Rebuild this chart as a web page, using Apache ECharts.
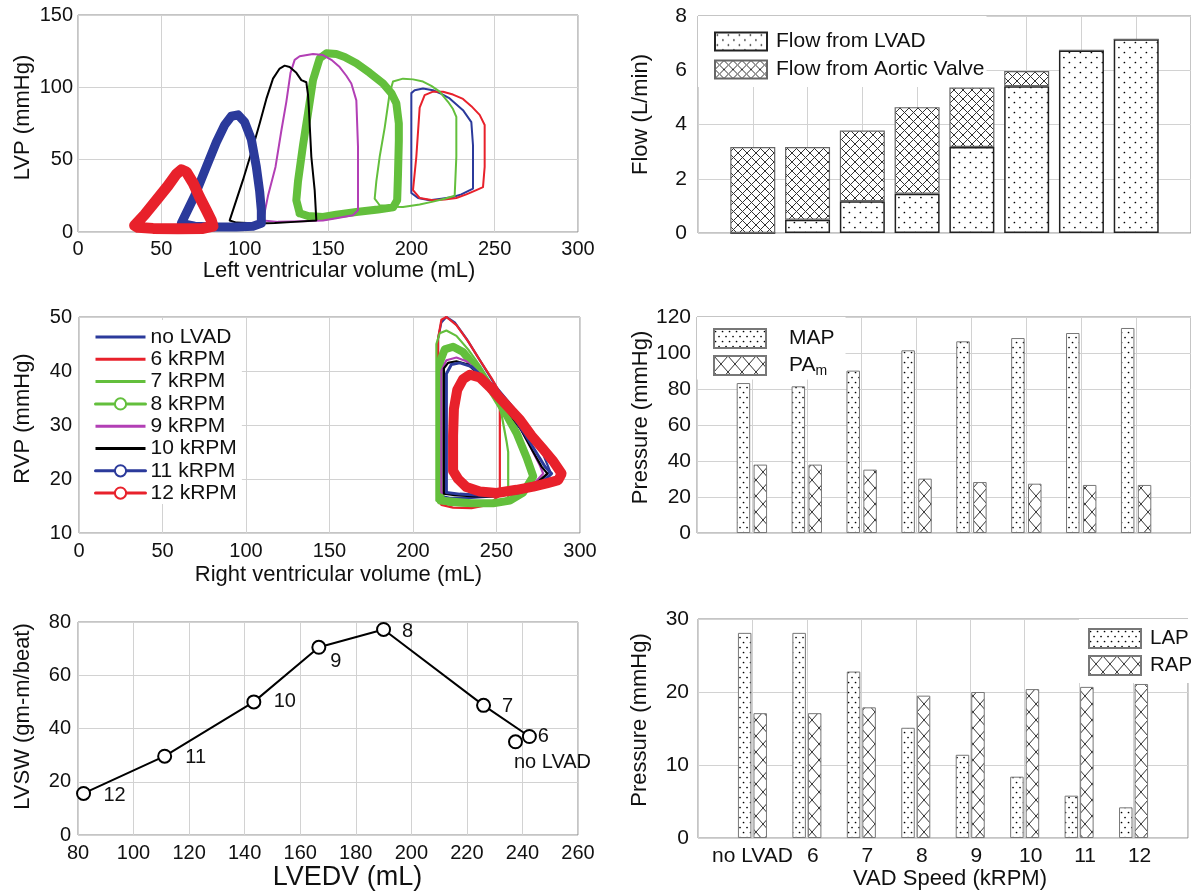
<!DOCTYPE html>
<html><head><meta charset="utf-8">
<script src="https://cdn.jsdelivr.net/npm/echarts@6/dist/echarts.min.js"></script>
<style>html,body{margin:0;padding:0;background:#fff}#c{width:1191px;height:893px}</style>
</head><body><div id="c"></div>
<script>
// ================= DATA =================
const speedLabels = ['no LVAD', '6', '7', '8', '9', '10', '11', '12'];
const loopNames = ['no LVAD', '6 kRPM', '7 kRPM', '8 kRPM', '9 kRPM', '10 kRPM', '11 kRPM', '12 kRPM'];

// Left ventricle PV loops [volume mL, pressure mmHg]
const lvNoLVAD = [[200,31],[200,60],[200,96],[202,98],[207,99.2],[213,98],[218,95.5],[223,92.3],[231,84.2],[236,76],[237,60],[237,30],[230,26],[225,24.2],[218,23],[211,21.9],[204,23.5],[200,27],[200,31]];
const lv6 = [[201,29],[203,52],[205,86],[208,94.6],[213,97],[219,97],[225,95],[231,92],[236,87],[241,81],[244,74],[244,45],[243,31],[239,29],[233,26],[227,23.5],[220,22.5],[213,22],[205,23.5],[201,29]];
const lv7 = [[181,18.5],[178,23],[179,35],[181,52],[184,72],[187,96],[189,104],[195,106],[201,105.5],[207,104],[212,101],[217,97],[222,90],[225,85],[227,79.6],[227,52],[226,25],[220,23],[213,21],[205,19],[195,17.3],[188,17.5],[181,18.5]];
const lv8 = [[133,13],[131,22],[132,35],[135,60],[138,82],[141,105],[145,120],[149,123.5],[155,123],[160,121],[167,116.6],[175,110],[183,102.7],[188,96],[191,89],[192.5,75],[192.5,63],[192,40],[191.5,22],[189,17],[180,15.5],[167,13.8],[155,12],[147,10.4],[138,11],[133,13]];
const lv9 = [[111,8],[114,25],[118.5,45],[122,70],[125,90],[127.5,110],[130,119],[133,121.5],[141,123],[147,122.3],[152,119],[157,114],[161,108],[164,102.7],[167,91],[168,59],[168,15],[165,11.6],[155,9.5],[147,8],[135,7.5],[120,7],[111,8]];
const lv10 = [[91,8],[95,22],[99,36],[104,55],[109,75],[113,92],[117,106],[121,113],[124,115],[127,114],[131,110],[134,105],[137,103.5],[138,95],[138.5,86],[140,52],[142,29],[143,8],[130,7],[118,6.2],[108,5.8],[95,6.5],[91,8]];
const lv11 = [[62,6],[70,25],[77,45],[83,62],[88,74],[92,80],[96,81],[100,76],[104,64],[107,45],[109,28],[110,15],[110,6],[105,4],[95,3.5],[82,3.5],[70,4],[62,6]];
const lv12 = [[34,4.5],[40,12],[47,22],[54,32],[59,40],[62,43],[65,41.5],[69,34],[73,24],[77,15],[80,8],[81,4],[75,2.5],[60,2.3],[45,2.5],[36,3.2],[34,4.5]];

// Right ventricle PV loops [volume mL, pressure mmHg]
const rvNoLVAD = [[215,17],[215,46],[217,49],[220,50],[225,49],[232,46],[240,42],[250,37],[260,33.3],[270,29],[278,24.5],[282,21.5],[276,19.5],[262,17.8],[248,16.8],[235,16.5],[222,16.5],[215,17]];
const rv6 = [[215,16],[215,46],[217,49.5],[220,50],[226,48.5],[233,45.5],[240,42],[247,38.7],[252,36],[252,17],[245,15.2],[235,14.6],[224,14.7],[217,15.2],[215,16]];
const rv7 = [[214,16],[214,45],[216,47],[220,47.5],[226,46.5],[233,44],[240,41],[248,37],[253,32],[256,27],[257,25],[257,16.5],[248,15.5],[235,15],[222,15.2],[214,16]];
const rv8 = [[216.5,16],[216.5,42],[219,44],[224,44.5],[230,43.5],[238,40.5],[246,37],[254,33],[262,28.5],[268,24],[272,20.5],[266,17.5],[258,16],[248,15.5],[235,15.5],[224,15.8],[216.5,16]];
const rv9 = [[217,17.5],[217,40],[220,42],[226,42.5],[232,41.8],[240,39.5],[248,36.5],[256,33],[264,29.5],[271,25.5],[276,22.5],[278,21],[272,19],[262,17.8],[250,17.2],[238,17],[226,17.2],[219,17.3],[217,17.5]];
const rv10 = [[218.5,17.3],[218.5,40.5],[221,41.5],[226,41.8],[233,41.2],[241,38.8],[249,35.8],[257,32.5],[265,29],[272,25],[277,22.3],[280.5,21],[273,19],[262,17.5],[250,16.8],[237,16.8],[225,17],[218.5,17.3]];
const rv11 = [[220,17.5],[220,39.5],[223,41.2],[228,41.5],[235,40.8],[243,38.5],[251,35.5],[259,32],[267,28.3],[274,24.8],[279,22.3],[283,21],[276,19],[264,17.5],[252,17],[240,17],[228,17.2],[220,17.5]];
const rv12 = [[224,21.5],[224,28],[224.5,33],[226.5,36.5],[230,38.5],[234,39.3],[240,38.8],[246,37],[252,35],[258,33],[264,31],[271,28],[278,25.5],[284,23.3],[289,21],[287,19.8],[280,19.2],[272,18.6],[262,18],[250,17.4],[240,17.7],[232,18.5],[227,20],[224,21.5]];

// Flow (L/min) per VAD speed
const flowLVAD   = [0, 0.49, 1.17, 1.45, 3.17, 5.41, 6.73, 7.14];
const flowAortic = [3.17, 2.68, 2.61, 3.19, 2.19, 0.56, 0, 0];
// Pressures (mmHg)
const mapValues = [83.3, 81.5, 90.2, 101.5, 106.5, 108.3, 111.1, 113.9];
const paMean    = [38, 38, 35.2, 30.2, 28.3, 27.4, 26.7, 26.7];
const lapValues = [28.1, 28.1, 22.8, 15.1, 11.4, 8.4, 5.8, 4.2];
const rapValues = [17.1, 17.1, 17.9, 19.5, 20.0, 20.4, 20.7, 21.1];
// Stroke work vs end-diastolic volume
const lvedv = [237.5, 242.5, 226, 190, 166.7, 143.3, 111.2, 82];
const lvsw  = [35, 37, 48.7, 77.2, 70.5, 50, 29.6, 15.6];
const pointLabels = ['no LVAD', '6', '7', '8', '9', '10', '11', '12'];

// ================= STYLE / LAYOUT =================
const FONT = '"Liberation Sans", Arial, Helvetica, sans-serif';
const loopColors = ['#2b3a9b', '#e8212b', '#63bf3c', '#63bf3c', '#b23fb5', '#000000', '#2b3a9b', '#e8212b'];
const lvWidths = [2, 2, 2, 8, 2, 2, 9, 11];
const rvWidths = [2.2, 2.2, 2.2, 8, 2.2, 2.2, 3, 10];
const withMarker = [false, false, false, true, false, false, true, true];
const labelOffsets = [[37, 21], [14, 0], [24, 1], [24, 2], [17, 14], [31, 0], [31, 1], [31, 2]];
// category slots: an empty slot before and after the speeds, so the bars sit where the reference puts them
const speedSlots = ['start'].concat(speedLabels, ['end']);

function makePattern(w, h, draw) {
  const c = document.createElement('canvas');
  c.width = w; c.height = h;
  const g = c.getContext('2d');
  g.fillStyle = '#fff'; g.fillRect(0, 0, w, h);
  draw(g, w, h);
  return { image: c, repeat: 'repeat' };
}
function dots(w, h) {
  return makePattern(w, h, (g) => {
    g.fillStyle = '#000';
    [[w * 0.22, h * 0.25], [w * 0.72, h * 0.75]].forEach(([x, y]) => {
      g.beginPath(); g.arc(x, y, 0.85, 0, Math.PI * 2); g.fill();
    });
  });
}
function hatch(w, h) {
  return makePattern(w, h, (g) => {
    g.strokeStyle = '#333'; g.lineWidth = 1;
    g.beginPath();
    g.moveTo(-w * 0.1, -h * 0.1); g.lineTo(w * 1.1, h * 1.1);
    g.moveTo(w * 1.1, -h * 0.1); g.lineTo(-w * 0.1, h * 1.1);
    g.stroke();
  });
}
const dotsWide = dots(11, 10), dotsNarrow = dots(7, 10);
const hatchWide = hatch(9, 9), hatchNarrow = hatch(14, 16);

const splitLine = { show: true, interval: 0, lineStyle: { color: '#d2d2d2', width: 1 } };
const gridBase = { show: true, borderColor: '#8a8a8a', borderWidth: 1, containLabel: false };

function vAxis(gi, min, max, interval, extra) {
  return Object.assign({
    type: 'value', gridIndex: gi, min: min, max: max, interval: interval,
    axisLine: { show: false }, axisTick: { show: false }, splitLine: splitLine,
    axisLabel: { color: '#111', fontSize: 20, fontFamily: FONT },
    nameLocation: 'middle',
    nameTextStyle: { color: '#111', fontSize: 22, fontFamily: FONT }
  }, extra);
}
function cAxis(gi, extra) {
  return Object.assign({
    type: 'category', gridIndex: gi, data: speedSlots, boundaryGap: false,
    axisLine: { show: false }, axisTick: { show: false }, splitLine: splitLine,
    axisLabel: { show: false },
    nameLocation: 'middle',
    nameTextStyle: { color: '#111', fontSize: 22, fontFamily: FONT }
  }, extra);
}
function nameStyle(size, pad) {
  return { color: '#111', fontSize: size, fontFamily: FONT, padding: pad };
}

const lvSets = [lvNoLVAD, lv6, lv7, lv8, lv9, lv10, lv11, lv12];
const rvSets = [rvNoLVAD, rv6, rv7, rv8, rv9, rv10, rv11, rv12];
const pair = (arr) => arr.map((v, i) => [speedLabels[i], v]);

const series = [];
lvSets.forEach((d, i) => series.push({
  type: 'line', name: loopNames[i], xAxisIndex: 0, yAxisIndex: 0, data: d,
  symbol: withMarker[i] ? 'emptyCircle' : 'none', showSymbol: false, silent: true,
  color: loopColors[i],
  lineStyle: { color: loopColors[i], width: lvWidths[i], join: 'round', cap: 'round' }
}));
rvSets.forEach((d, i) => series.push({
  type: 'line', name: loopNames[i], xAxisIndex: 2, yAxisIndex: 2, data: d,
  symbol: withMarker[i] ? 'emptyCircle' : 'none', showSymbol: false, silent: true,
  color: loopColors[i],
  lineStyle: { color: loopColors[i], width: rvWidths[i], join: 'round', cap: 'round' }
}));
series.push(
  { type: 'bar', name: 'Flow from LVAD', xAxisIndex: 1, yAxisIndex: 1, stack: 'flow', barWidth: 45,
    data: pair(flowLVAD), itemStyle: { color: dotsWide, borderColor: '#222', borderWidth: 1.5 } },
  { type: 'bar', name: 'Flow from Aortic Valve', xAxisIndex: 1, yAxisIndex: 1, stack: 'flow', barWidth: 45,
    data: pair(flowAortic), itemStyle: { color: hatchWide, borderColor: '#666', borderWidth: 1.2 } },
  { type: 'bar', name: 'MAP', xAxisIndex: 3, yAxisIndex: 3, barWidth: 13.5, barGap: '25%',
    data: pair(mapValues), itemStyle: { color: dotsNarrow, borderColor: '#777', borderWidth: 1 } },
  { type: 'bar', name: 'PAm', xAxisIndex: 3, yAxisIndex: 3, barWidth: 13.5, barGap: '25%',
    data: pair(paMean), itemStyle: { color: hatchNarrow, borderColor: '#777', borderWidth: 1 } },
  { type: 'bar', name: 'LAP', xAxisIndex: 5, yAxisIndex: 5, barWidth: 13.5, barGap: '15%',
    data: pair(lapValues), itemStyle: { color: dotsNarrow, borderColor: '#777', borderWidth: 1 } },
  { type: 'bar', name: 'RAP', xAxisIndex: 5, yAxisIndex: 5, barWidth: 13.5, barGap: '15%',
    data: pair(rapValues), itemStyle: { color: hatchNarrow, borderColor: '#777', borderWidth: 1 } }
);
const swPoint = (i) => ({
  value: [lvedv[i], lvsw[i]],
  label: { show: true, formatter: pointLabels[i], offset: labelOffsets[i] }
});
const swLabel = { show: true, position: 'inside', color: '#111', fontSize: 20, fontFamily: FONT };
series.push(
  { type: 'line', name: 'LVSW', xAxisIndex: 4, yAxisIndex: 4, symbol: 'emptyCircle', symbolSize: 13,
    data: [7, 6, 5, 4, 3, 2, 1].map(swPoint), color: '#000',
    lineStyle: { color: '#000', width: 2 }, itemStyle: { color: '#000', borderWidth: 2.2 }, label: swLabel },
  { type: 'scatter', name: 'LVSW no LVAD', xAxisIndex: 4, yAxisIndex: 4, symbol: 'emptyCircle', symbolSize: 13,
    data: [0].map(swPoint), color: '#000',
    itemStyle: { color: '#000', borderColor: '#000', borderWidth: 2.2, opacity: 1 }, label: swLabel }
);

const linePath = 'path://M0,0L50,0L50,3L0,3Z';
const option = {
  animation: false,
  textStyle: { fontFamily: FONT, color: '#111' },
  grid: [
    Object.assign({ left: 78, top: 15, width: 500, height: 217 }, gridBase),
    Object.assign({ left: 698, top: 16, width: 510, height: 217 }, gridBase),
    Object.assign({ left: 79, top: 317, width: 501, height: 216 }, gridBase),
    Object.assign({ left: 697, top: 317, width: 510, height: 216 }, gridBase),
    Object.assign({ left: 78, top: 622, width: 500, height: 213 }, gridBase),
    Object.assign({ left: 698, top: 619, width: 510, height: 219 }, gridBase)
  ],
  xAxis: [
    vAxis(0, 0, 300, 50, { name: 'Left ventricular volume (mL)', nameGap: 28, nameTextStyle: nameStyle(22, [0, 0, 0, 22]),
      axisLabel: { color: '#111', fontSize: 20, margin: 7 } }),
    cAxis(1),
    vAxis(2, 0, 300, 50, { name: 'Right ventricular volume (mL)', nameGap: 31, nameTextStyle: nameStyle(22, [0, 0, 0, 18]),
      axisLabel: { color: '#111', fontSize: 20, margin: 8 } }),
    cAxis(3),
    vAxis(4, 80, 260, 20, { name: 'LVEDV (mL)', nameGap: 26, nameTextStyle: nameStyle(27, [0, 0, 0, 39]),
      axisLabel: { color: '#111', fontSize: 20, margin: 8 } }),
    cAxis(5, { name: 'VAD Speed (kRPM)', nameGap: 27, nameTextStyle: nameStyle(22, [0, 0, 0, 14]),
      axisLabel: { show: true, interval: 0, color: '#111', fontSize: 21, margin: 8,
        formatter: (v, i) => {
          if (i < 1 || i > speedLabels.length) return '';
          return (i === 1 ? '{a|' : '{b|') + v + '}';
        },
        rich: { a: { fontSize: 21, color: '#111' }, b: { fontSize: 21, color: '#111', padding: [0, 0, 0, 12] } } } })
  ],
  yAxis: [
    vAxis(0, 0, 150, 50, { name: 'LVP (mmHg)', nameGap: 44, nameTextStyle: nameStyle(22, [0, 0, 0, 12]),
      axisLabel: { color: '#111', fontSize: 20, margin: 5 } }),
    vAxis(1, 0, 8, 2, { name: 'Flow (L/min)', nameGap: 46, nameTextStyle: nameStyle(22, [0, 0, 0, 20]),
      axisLabel: { color: '#111', fontSize: 21, margin: 11 } }),
    vAxis(2, 10, 50, 10, { name: 'RVP (mmHg)', nameGap: 45, nameTextStyle: nameStyle(22, [0, 0, 0, 13]),
      axisLabel: { color: '#111', fontSize: 20, margin: 7 } }),
    vAxis(3, 0, 120, 20, { name: 'Pressure (mmHg)', nameGap: 42, nameTextStyle: nameStyle(22, [0, 0, 0, 15]),
      axisLabel: { color: '#111', fontSize: 21, margin: 6 } }),
    vAxis(4, 0, 80, 20, { name: 'LVSW (gm-m/beat)', nameGap: 44, nameTextStyle: nameStyle(22, [0, 0, 0, 24]),
      axisLabel: { color: '#111', fontSize: 20, margin: 7 } }),
    vAxis(5, 0, 30, 10, { name: 'Pressure (mmHg)', nameGap: 47, nameTextStyle: nameStyle(22, [0, 0, 0, 17]),
      axisLabel: { color: '#111', fontSize: 21, margin: 9 } })
  ],
  legend: [
    { orient: 'vertical', left: 80, top: 320, padding: [6, 5, 0, 14], backgroundColor: '#fff',
      itemWidth: 50, itemHeight: 14, itemGap: 0.3, selectedMode: false,
      lineStyle: { width: 3 },
      textStyle: { fontSize: 21, color: '#111', lineHeight: 14, padding: [8, 0, 0, 0] },
      data: loopNames.map((n, i) => withMarker[i] ? { name: n } : { name: n, icon: linePath }) },
    { orient: 'vertical', left: 698, top: 16, padding: [15, 2, 7, 16], backgroundColor: '#fff',
      itemWidth: 52, itemHeight: 18, itemGap: 7, icon: 'rect', selectedMode: false,
      textStyle: { fontSize: 21, color: '#111', lineHeight: 18, padding: [0, 0, 0, 4] },
      data: ['Flow from LVAD', 'Flow from Aortic Valve'] },
    { orient: 'vertical', left: 697, top: 317, padding: [11, 11, 1, 16], backgroundColor: '#fff',
      itemWidth: 52, itemHeight: 19, itemGap: 6, icon: 'rect', selectedMode: false,
      formatter: (n) => n === 'PAm' ? 'PA{sub|m}' : n,
      textStyle: { fontSize: 21, color: '#111', lineHeight: 19, padding: [0, 0, 0, 18],
        rich: { sub: { fontSize: 14, color: '#111', padding: [12, 0, 0, 0] } } },
      data: ['MAP', 'PAm'] },
    { orient: 'vertical', left: 1079, top: 619, padding: [9, 8, 7, 9], backgroundColor: '#fff',
      itemWidth: 52, itemHeight: 19, itemGap: 6, icon: 'rect', selectedMode: false,
      textStyle: { fontSize: 20.5, color: '#111', lineHeight: 19, padding: [0, 0, 0, 4] },
      data: ['LAP', 'RAP'] }
  ],
  series: series
};

const chart = echarts.init(document.getElementById('c'), null, { renderer: 'canvas', devicePixelRatio: 1 });
chart.setOption(option);
</script>
</body></html>
